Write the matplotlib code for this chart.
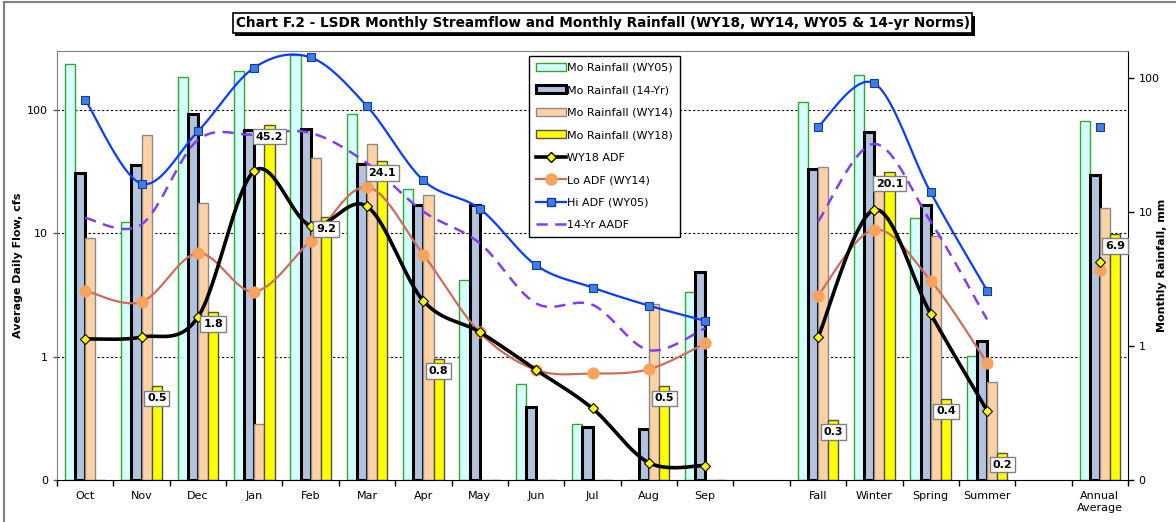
import numpy as np
import matplotlib
matplotlib.use('Agg')
import matplotlib.pyplot as plt
import matplotlib.transforms as mtransforms
import matplotlib.patheffects as pe
from matplotlib.patches import Patch
from matplotlib.lines import Line2D

nan = np.nan

#--------------------------------------------------------------------------------------------------------------------#

# Datos (meses, hueco, estaciones, hueco, promedio anual)
categorias = ['Oct', 'Nov', 'Dec', 'Jan', 'Feb', 'Mar', 'Apr', 'May', 'Jun', 'Jul', 'Aug', 'Sep', '',
              'Fall', 'Winter', 'Spring', 'Summer', '', 'Annual\nAverage']

# Lluvia mensual, mm (eje derecho)
lluvia_wy05 = [128, 8.4, 102, 114, 150, 54, 15, 3.1, 0.52, 0.26, 0, 2.55, nan, 67, 105, 9.0, 0.84, nan, 48]
lluvia_14yr = [19.7, 22.7, 54, 41.4, 42, 23, 11.3, 11.3, 0.35, 0.25, 0.24, 3.6, nan, 21.2, 40, 11.3, 1.1, nan, 19.1]
lluvia_wy14 = [6.4, 37.6, 11.7, 0.26, 25.5, 32.6, 13.5, 0, 0, 0, 2.05, 0, nan, 21.9, 16, 6.7, 0.54, nan, 10.8]
lluvia_wy18 = [0, 0.5, 1.8, 45.2, 9.2, 24.1, 0.8, 0, 0, 0, 0.5, 0, nan, 0.28, 20.1, 0.4, 0.16, nan, 6.9]

# Caudal medio diario, cfs (eje izquierdo)
adf_wy18 = [1.39, 1.44, 2.09, 32, 11.5, 16.5, 2.83, 1.58, 0.78, 0.38, 0.138, 0.131, nan, 1.43, 15.5, 2.22, 0.365, nan, 5.9]
adf_lo_wy14 = [3.43, 2.78, 6.9, 3.37, 8.7, 23.7, 6.7, 1.57, 0.78, 0.73, 0.79, 1.28, nan, 3.12, 10.7, 4.13, 0.89, nan, 5.05]
adf_hi_wy05 = [121, 25.2, 67, 220, 266, 107, 26.8, 15.8, 5.5, 3.63, 2.59, 1.95, nan, 73, 164, 21.4, 3.43, nan, 72]
aadf_14yr = [13.3, 11.8, 57, 63, 65, 37, 15, 8.3, 2.7, 2.63, 1.13, 1.7, nan, 12.4, 53, 12.4, 2.0, nan, nan]

#--------------------------------------------------------------------------------------------------------------------#

# Curva suavizada (tipo Excel, Catmull-Rom en escala log)
def suavizar(x, y, n=30):
    P = np.column_stack([x, np.log10(y)])
    Pe = np.vstack([P[0], P, P[-1]])
    xs, ys = [], []
    t = np.linspace(0, 1, n)[:, None]
    for i in range(len(P) - 1):
        p0, p1, p2, p3 = Pe[i], Pe[i + 1], Pe[i + 2], Pe[i + 3]
        c = 0.5 * ((2 * p1) + (-p0 + p2) * t + (2 * p0 - 5 * p1 + 4 * p2 - p3) * t ** 2
                   + (-p0 + 3 * p1 - 3 * p2 + p3) * t ** 3)
        xs.extend(c[:, 0])
        ys.extend(c[:, 1])
    return np.array(xs), 10 ** np.array(ys)

#--------------------------------------------------------------------------------------------------------------------#

# Dibuja una serie de línea por tramos (se corta en los huecos)
def dibujar_linea(ax, valores, color, lw, ls, marker, ms, mfc, mec, z):
    v = np.array(valores, dtype=float)
    x = np.arange(len(v))
    tramos = []
    actual = []
    for i in range(len(v)):
        if np.isnan(v[i]):
            if actual:
                tramos.append(actual)
            actual = []
        else:
            actual.append(i)
    if actual:
        tramos.append(actual)
    for tr in tramos:
        if len(tr) > 1:
            xs, ys = suavizar(x[tr], v[tr])
            ax.plot(xs, ys, color=color, lw=lw, ls=ls, zorder=z, solid_capstyle='butt')
        if marker:
            ax.plot(x[tr], v[tr], ls='none', marker=marker, ms=ms, mfc=mfc, mec=mec, mew=0.8, zorder=z + 0.1)

#--------------------------------------------------------------------------------------------------------------------#

fig = plt.figure(figsize=(11.76, 5.22), dpi=100)
ax = fig.add_axes([57 / 1176, 42 / 522, 1071 / 1176, 429 / 522])
ax2 = ax.twinx()

# Las líneas (eje izquierdo) van encima de las barras (eje derecho)
ax.set_zorder(ax2.get_zorder() + 1)
ax.patch.set_visible(False)

x = np.arange(len(categorias))
w = 0.18

# Barras de lluvia
series_barras = [
    (lluvia_wy05, '#D6FFFF', '#2EA82E', 1.0, 'Mo Rainfall (WY05)'),
    (lluvia_14yr, '#B3C3DE', '#000000', 2.2, 'Mo Rainfall (14-Yr)'),
    (lluvia_wy14, '#FFD2A6', '#8A8A8A', 1.0, 'Mo Rainfall (WY14)'),
    (lluvia_wy18, '#FFFF00', '#505050', 1.0, 'Mo Rainfall (WY18)'),
]
for k, (vals, fc, ec, lw, nombre) in enumerate(series_barras):
    v = np.array(vals, dtype=float)
    ok = ~np.isnan(v)
    alturas = np.maximum(v[ok], 0.1) - 0.1
    ax2.bar(x[ok] + (k - 1.5) * w, alturas, bottom=0.1, width=w, color=fc, edgecolor=ec, linewidth=lw, zorder=2)

ax2.set_yscale('log')
ax2.set_ylim(0.1, 160)
ax2.set_yticks([0.1, 1, 10, 100])
ax2.set_yticklabels(['0', '1', '10', '100'])
ax2.yaxis.set_minor_locator(matplotlib.ticker.NullLocator())
ax2.tick_params(axis='y', direction='out', length=4, width=1, colors='black', labelsize=8)
ax2.set_ylabel('Monthly Rainfall, mm', fontsize=8, fontweight='bold')
ax2.yaxis.set_label_coords((1157 - 57) / 1071, 0.5)
for s in ['left', 'top', 'bottom']:
    ax2.spines[s].set_visible(False)
ax2.spines['right'].set_color('black')

# Líneas de cuadrícula (del eje izquierdo) detrás de las barras
trans = mtransforms.blended_transform_factory(ax2.transAxes, ax.transData)
for g in [1, 10, 100]:
    ax2.plot([0, 1], [g, g], transform=trans, color='black', lw=0.8, ls=(0, (2, 2)), zorder=0.5)

# Series de caudal
guion = (0, (4.5, 3))
dibujar_linea(ax, adf_hi_wy05, '#0A3CFF', 1.6, '-', 's', 6, '#3C7FE6', '#1A3A8C', 3)
dibujar_linea(ax, aadf_14yr, '#7F3FF0', 1.8, guion, None, 0, None, None, 3)
dibujar_linea(ax, adf_lo_wy14, '#CC6E5E', 1.6, '-', 'o', 8, '#F5A35E', '#F5A35E', 3.5)
dibujar_linea(ax, adf_wy18, '#000000', 2.6, '-', 'D', 5, '#FFFF00', '#000000', 4)

ax.set_yscale('log')
ax.set_ylim(0.1, 300)
ax.set_yticks([0.1, 1, 10, 100])
ax.set_yticklabels(['0', '1', '10', '100'])
ax.yaxis.set_minor_locator(matplotlib.ticker.NullLocator())
ax.tick_params(axis='y', direction='out', length=3, width=1, colors='#555555', labelcolor='black', labelsize=8)
ax.set_ylabel('Average Daily Flow, cfs', fontsize=8, fontweight='bold')
ax.yaxis.set_label_coords((23 - 57) / 1071, 0.5)

ax.set_xlim(-0.5, len(categorias) - 0.5)
ax.set_xticks(x)
ax.set_xticklabels(categorias, fontsize=8, linespacing=1.2)
ax.set_xticks(np.arange(-0.5, len(categorias), 1), minor=True)
ax.tick_params(axis='x', which='major', length=0, pad=8)
ax.tick_params(axis='x', which='minor', direction='out', length=4, width=1, colors='black')

ax.spines['right'].set_visible(False)
ax.spines['left'].set_color('#808080')
ax.spines['top'].set_color('#808080')
ax.spines['bottom'].set_color('black')

# Etiquetas de la lluvia WY18
for i, v in enumerate(lluvia_wy18):
    if not np.isnan(v) and v > 0:
        ax.annotate(f'{v:.1f}', xy=(x[i] + 1.5 * w, v), xycoords=ax2.transData,
                    xytext=(0, -12), textcoords='offset pixels', ha='center', va='center',
                    fontsize=8, fontweight='bold', zorder=6,
                    bbox=dict(boxstyle='square,pad=0.25', facecolor='white', edgecolor='#808080', lw=1))

# Leyenda
manejadores = [Patch(facecolor=fc, edgecolor=ec, linewidth=lw, label=nombre)
               for vals, fc, ec, lw, nombre in series_barras]
manejadores += [
    Line2D([], [], color='black', lw=2.6, marker='D', ms=5, mfc='#FFFF00', mec='black', label='WY18 ADF'),
    Line2D([], [], color='#CC6E5E', lw=1.6, marker='o', ms=8, mfc='#F5A35E', mec='#F5A35E', label='Lo ADF (WY14)'),
    Line2D([], [], color='#0A3CFF', lw=1.6, marker='s', ms=6, mfc='#3C7FE6', mec='#1A3A8C', label='Hi ADF (WY05)'),
    Line2D([], [], color='#7F3FF0', lw=1.8, ls=guion, label='14-Yr AADF'),
]
leg = ax.legend(handles=manejadores, loc='upper left', bbox_to_anchor=(0.4407, 0.988), fontsize=8,
                frameon=True, fancybox=False, edgecolor='black', framealpha=1, borderpad=0.6,
                labelspacing=1.12, handlelength=2.7, handletextpad=0.15, borderaxespad=0)
leg.get_frame().set_linewidth(1)
leg.set_zorder(10)

# Título con recuadro y sombra
t = fig.text(602.5 / 1176, 1 - 23 / 522,
             'Chart F.2 - LSDR Monthly Streamflow and Monthly Rainfall (WY18, WY14, WY05 & 14-yr Norms)',
             ha='center', va='center', fontsize=9.8, fontweight='bold',
             bbox=dict(boxstyle='square,pad=0.22', facecolor='white', edgecolor='black', lw=1.2))
t.get_bbox_patch().set_path_effects([pe.SimplePatchShadow(offset=(2, -2), shadow_rgbFace='black', alpha=1),
                                     pe.Normal()])

# Marco exterior del gráfico
fig.add_artist(Line2D([4 / 1176, 4 / 1176], [0, 1 - 2 / 522], color='#808080', lw=1.5))
fig.add_artist(Line2D([4 / 1176, 1], [1 - 2 / 522, 1 - 2 / 522], color='#808080', lw=1.5))

plt.savefig('out.png', dpi=100)
